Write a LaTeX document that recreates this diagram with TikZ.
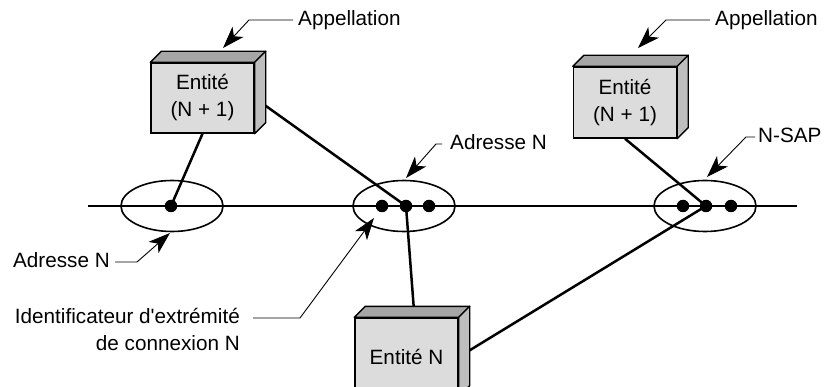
\documentclass[tikz,border=0pt]{standalone}
\usepackage{fontspec}
\setmainfont{Liberation Sans}
\usetikzlibrary{shapes.geometric,arrows.meta,backgrounds}
\definecolor{faceavant}{HTML}{DCDCDC}
\definecolor{facehaut}{HTML}{A6A6A6}
\definecolor{facecote}{HTML}{BEBEBE}
\tikzset{
  entite/.style={draw,line width=1.4pt,fill=faceavant,minimum width=103pt,inner sep=0pt,
    align=center,font=\fontsize{20.7}{27}\selectfont},
  anneau/.style={ellipse,draw,line width=1.6pt,minimum width=102pt,minimum height=51pt,inner sep=0pt},
  point/.style={circle,fill,inner sep=0pt,minimum size=12.5pt},
  lien/.style={line width=2.5pt},
  renvoi/.style={line width=0.9pt,-{Stealth[length=22pt,width=15pt,inset=6pt]}},
  etiq/.style={inner sep=2pt,text height=15pt,text depth=4pt,font=\fontsize{20.7}{27}\selectfont},
}
\begin{document}
\begin{tikzpicture}[x=1pt,y=-1pt]
\useasboundingbox (0,0) rectangle (835,387);
\clip (0,0) rectangle (835,387);

% entites
\node[entite,minimum height=70pt] (e1) at (202.5,98) {Entité\\(N + 1)};
\node[entite,minimum height=71pt] (e2) at (625,102.5) {Entité\\(N + 1)};
\node[entite,minimum height=78pt] (e3) at (406.5,357) {Entité N};
\foreach \b in {e1,e2,e3}{
  \filldraw[line width=1.4pt,fill=facehaut,line join=round] (\b.north west) -- ++(11,-11)
    -- ([shift={(11,-11)}]\b.north east) -- (\b.north east) -- cycle;
  \filldraw[line width=1.4pt,fill=facecote,line join=round] (\b.north east) -- ++(11,-11)
    -- ([shift={(11,-11)}]\b.south east) -- (\b.south east) -- cycle;
}

% adresses
\node[anneau] (a1) at (172,206) {};
\node[anneau] (a2) at (404,206) {};
\node[anneau] (a3) at (705,206) {};
\node[point] (p1) at (171,206) {};
\node[point] (p2a) at (382,206) {};
\node[point] (p2b) at (406,206) {};
\node[point] (p2c) at (429,206) {};
\node[point] (p3a) at (683,206) {};
\node[point] (p3b) at (706,206) {};
\node[point] (p3c) at (731,206) {};

\coordinate (g) at (88,206);
\coordinate (d) at (797,206);
\begin{pgfonlayer}{background}
\draw[lien] (g) -- (d);
\draw[lien] (e1.south) -- (p1.center);
\draw[lien] (e1.east) -- (p2b.center);
\draw[lien] ([xshift=8pt]e3.north) -- (p2b.center);
\draw[lien] (e2.south) -- (p3b.center);
\draw[lien] (e3.east) -- (p3b.center);
\end{pgfonlayer}

% etiquettes
\node[etiq,anchor=west] (app1) at (296,20) {Appellation};
\node[etiq,anchor=west] (app2) at (713,20) {Appellation};
\node[etiq,anchor=west] (adr2) at (448,144) {Adresse N};
\node[etiq,anchor=west] (sap) at (756,137) {N-SAP};
\node[etiq,anchor=east] (adr1) at (112,262) {Adresse N};
\node[etiq,anchor=east] (id1) at (242,318) {Identificateur d\textquotesingle extrémité};
\node[etiq,anchor=east] (id2) at (242,345) {de connexion N};

\coordinate (f1) at (223,48);
\coordinate (f2) at (638,48);
\coordinate (f3) at (406,178);
\coordinate (f4) at (707,177);
\coordinate (f5) at (170,233);
\coordinate (f6) at (374,218);
\draw[renvoi] ([xshift=-3pt]app1.west) -- ++(-44,0) -- (f1);
\draw[renvoi] ([xshift=-3pt]app2.west) -- ++(-44,0) -- (f2);
\draw[renvoi] ([xshift=-6pt]adr2.west) -- ++(-6,0) -- (f3);
\draw[renvoi] ([xshift=-1pt]sap.west) -- ++(-9,0) -- (f4);
\draw[renvoi] ([xshift=3pt]adr1.east) -- ++(22,0) -- (f5);
\draw[renvoi] ([xshift=11pt]id1.east) -- ++(47,0) -- (f6);
\end{tikzpicture}
\end{document}
